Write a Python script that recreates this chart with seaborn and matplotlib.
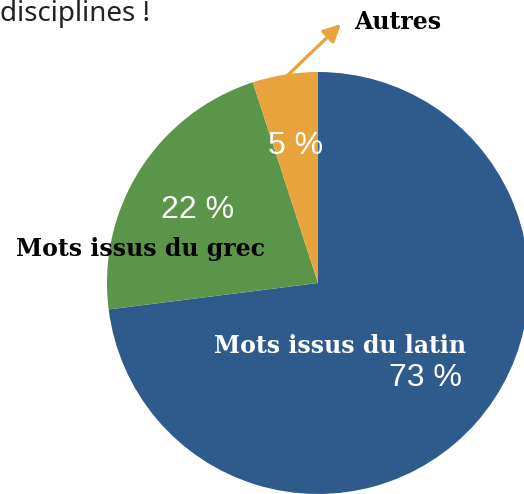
import matplotlib
matplotlib.use("Agg")
import matplotlib.pyplot as plt
import seaborn as sns

# data
categories = ["Mots issus du latin", "Mots issus du grec", "Autres"]
shares = [73, 22, 5]
pct_labels = ["73 %", "22 %", "5 %"]
colors = ["#2E5A8C", "#5B9549", "#E8A33D"]

sns.set_theme(style="white")
plt.rcParams["font.family"] = ["DejaVu Sans"]

W, H = 524, 494
fig = plt.figure(figsize=(W / 100, H / 100), dpi=100)
ax = fig.add_axes([0, 0, 1, 1])

cx, cy, r = 318, H - 283, 211
ax.pie(shares, colors=colors, startangle=90, counterclock=False,
       center=(cx, cy), radius=r, frame=False,
       wedgeprops=dict(linewidth=0))
ax.set_xlim(0, W)
ax.set_ylim(0, H)
ax.set_aspect("equal")
ax.axis("off")

pct_font = dict(family="Liberation Sans", fontsize=23, color="white")
ax.text(425, H - 378, pct_labels[0], ha="center", va="center", **pct_font)
ax.text(198, H - 210, pct_labels[1], ha="center", va="center", **pct_font)
ax.text(296, H - 146, pct_labels[2], ha="center", va="center", **pct_font)

lab_font = dict(family="DejaVu Serif", fontweight="bold", fontsize=17)
ax.text(340, H - 346, categories[0], ha="center", va="center", color="white", **lab_font)
ax.text(140, H - 249, categories[1], ha="center", va="center", color="black", **lab_font)
ax.text(398, H - 22, categories[2], ha="center", va="center", color="black", **lab_font)

# arrow to "Autres"
ax.annotate("", xy=(341, H - 24), xytext=(287, H - 76),
            arrowprops=dict(arrowstyle="-|>", color=colors[2], lw=2.4,
                            mutation_scale=26, shrinkA=0, shrinkB=0))

ax.text(0, H - 14, "disciplines !", ha="left", va="center",
        family="Noto Sans", fontsize=20, color="#222222")

fig.savefig("out.png", dpi=100)
